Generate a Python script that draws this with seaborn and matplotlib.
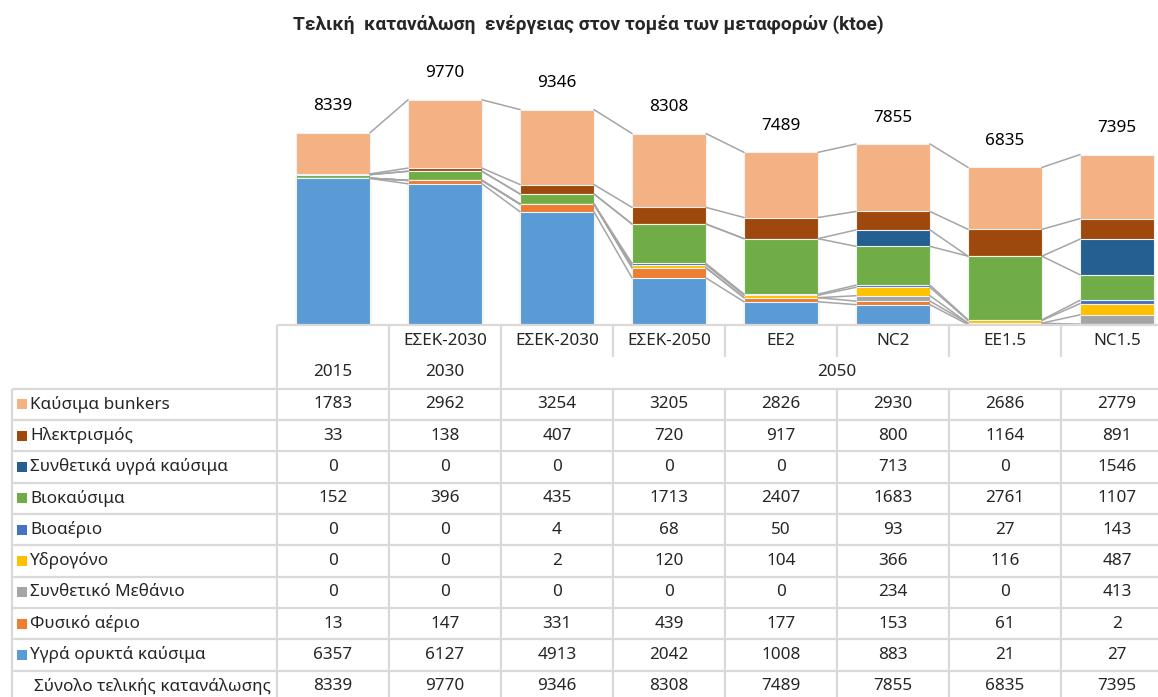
import numpy as np
import pandas as pd
import seaborn as sns
import matplotlib.pyplot as plt
from matplotlib.patches import Rectangle

# scenarios (x categories) and table header texts
scenarios = ["2015", "ΕΣΕΚ-2030 / 2030", "ΕΣΕΚ-2030 / 2050", "ΕΣΕΚ-2050",
             "EE2", "NC2", "EE1.5", "NC1.5"]
scenario_labels = ["", "ΕΣΕΚ-2030", "ΕΣΕΚ-2030", "ΕΣΕΚ-2050",
                   "EE2", "NC2", "EE1.5", "NC1.5"]
year_labels = ["2015", "2030"]
merged_year = "2050"

# fuels in table order (top to bottom), stacked in reverse
fuels = ["Καύσιμα bunkers", "Ηλεκτρισμός", "Συνθετικά υγρά καύσιμα",
         "Βιοκαύσιμα", "Βιοαέριο", "Υδρογόνο", "Συνθετικό Μεθάνιο",
         "Φυσικό αέριο", "Υγρά ορυκτά καύσιμα"]
colors = ["#F4B183", "#9E480E", "#255E91", "#70AD47", "#4472C4",
          "#FFC000", "#A5A5A5", "#ED7D31", "#5B9BD5"]

bunkers = [1783, 2962, 3254, 3205, 2826, 2930, 2686, 2779]
electricity = [33, 138, 407, 720, 917, 800, 1164, 891]
synthetic_liquid = [0, 0, 0, 0, 0, 713, 0, 1546]
biofuels = [152, 396, 435, 1713, 2407, 1683, 2761, 1107]
biogas = [0, 0, 4, 68, 50, 93, 27, 143]
hydrogen = [0, 0, 2, 120, 104, 366, 116, 487]
synthetic_methane = [0, 0, 0, 0, 0, 234, 0, 413]
natural_gas = [13, 147, 331, 439, 177, 153, 61, 2]
liquid_fossil = [6357, 6127, 4913, 2042, 1008, 883, 21, 27]
totals = [8339, 9770, 9346, 8308, 7489, 7855, 6835, 7395]
total_label = "Σύνολο τελικής κατανάλωσης"

values = [bunkers, electricity, synthetic_liquid, biofuels, biogas,
          hydrogen, synthetic_methane, natural_gas, liquid_fossil]

df = pd.DataFrame(np.array(values).T, columns=fuels, index=scenarios)
stack_order = fuels[::-1]
cum = df[stack_order].cumsum(axis=1)

sns.set_style("white")
plt.rcParams["font.family"] = ["Noto Sans", "DejaVu Sans"]

W, H = 1158, 697
fig = plt.figure(figsize=(W / 100, H / 100), dpi=100)

# chart axes in pixel-aligned position
col_w = 112
x0 = 277
y_base = 325
y_top = 50
px_per_unit = 0.02305
ax = fig.add_axes([x0 / W, 1 - y_base / H, 8 * col_w / W, (y_base - y_top) / H])

bar_w = 0.66
# overlay cumulative tops, largest first
for fuel, color in zip(fuels, colors):
    sns.barplot(x=scenarios, y=cum[fuel].values, order=scenarios, color=color,
                width=bar_w, edgecolor="#F2F2F2", linewidth=0.8, ax=ax,
                saturation=1)

# series lines between adjacent bars
xs = np.arange(len(scenarios))
for fuel in stack_order:
    tops = cum[fuel].values
    for i in range(len(scenarios) - 1):
        ax.plot([xs[i] + bar_w / 2, xs[i + 1] - bar_w / 2],
                [tops[i], tops[i + 1]], color="#A5A5A5", lw=1.1, zorder=1)

for i, t in enumerate(totals):
    ax.annotate(f"{t}", (xs[i], cum[stack_order[-1]].values[i]),
                xytext=(0, 19), textcoords="offset points",
                ha="center", va="center", fontsize=12.3, color="black")

ax.set_xlim(-0.5, 7.5)
ax.set_ylim(0, (y_base - y_top) / px_per_unit)
ax.set_axis_off()

# table drawn in pixel coordinates
tab = fig.add_axes([0, 0, 1, 1])
tab.set_xlim(0, W)
tab.set_ylim(H, 0)
tab.set_axis_off()
tab.patch.set_alpha(0)

grid = "#D9D9D9"
lw = 1.6
row_h = 31.35
data_top = 388.5
n_rows = len(fuels) + 1
right = x0 + 8 * col_w

tab.hlines(y_base, x0, right, color=grid, lw=lw)
for r in range(n_rows + 1):
    tab.hlines(data_top + r * row_h, 12, right, color=grid, lw=lw)
tab.vlines(12, data_top, H + 10, color=grid, lw=lw)
for j in range(8):
    xl = x0 + j * col_w
    if j <= 2:
        tab.vlines(xl, y_base, H + 10, color=grid, lw=lw)
    else:
        tab.vlines(xl, y_base, 357, color=grid, lw=lw)
        tab.vlines(xl, data_top, H + 10, color=grid, lw=lw)

fs = 12.3
for j, lab in enumerate(scenario_labels):
    tab.text(x0 + (j + 0.5) * col_w, 341, lab, ha="center", va="center", fontsize=fs)
for j, lab in enumerate(year_labels):
    tab.text(x0 + (j + 0.5) * col_w, 372, lab, ha="center", va="center", fontsize=fs)
tab.text((x0 + 2 * col_w + right) / 2, 372, merged_year, ha="center", va="center", fontsize=fs)

for r, (fuel, color) in enumerate(zip(fuels, colors)):
    yc = data_top + (r + 0.5) * row_h
    tab.add_patch(Rectangle((17, yc - 5), 10, 10, color=color, lw=0))
    tab.text(30, yc, fuel, ha="left", va="center", fontsize=fs)
    for j, v in enumerate(values[r]):
        tab.text(x0 + (j + 0.5) * col_w, yc, f"{v}", ha="center", va="center", fontsize=fs)
yc = data_top + (n_rows - 0.5) * row_h
tab.text(34, yc, total_label, ha="left", va="center", fontsize=fs)
for j, v in enumerate(totals):
    tab.text(x0 + (j + 0.5) * col_w, yc, f"{v}", ha="center", va="center", fontsize=fs)

fig.text(588 / W, 1 - 24 / H,
         "Τελική  κατανάλωση  ενέργειας στον τομέα των μεταφορών (ktoe)",
         ha="center", va="center", fontsize=13.8, fontweight="bold",
         family=["Roboto", "DejaVu Sans"])

fig.savefig("out.png", dpi=100)
